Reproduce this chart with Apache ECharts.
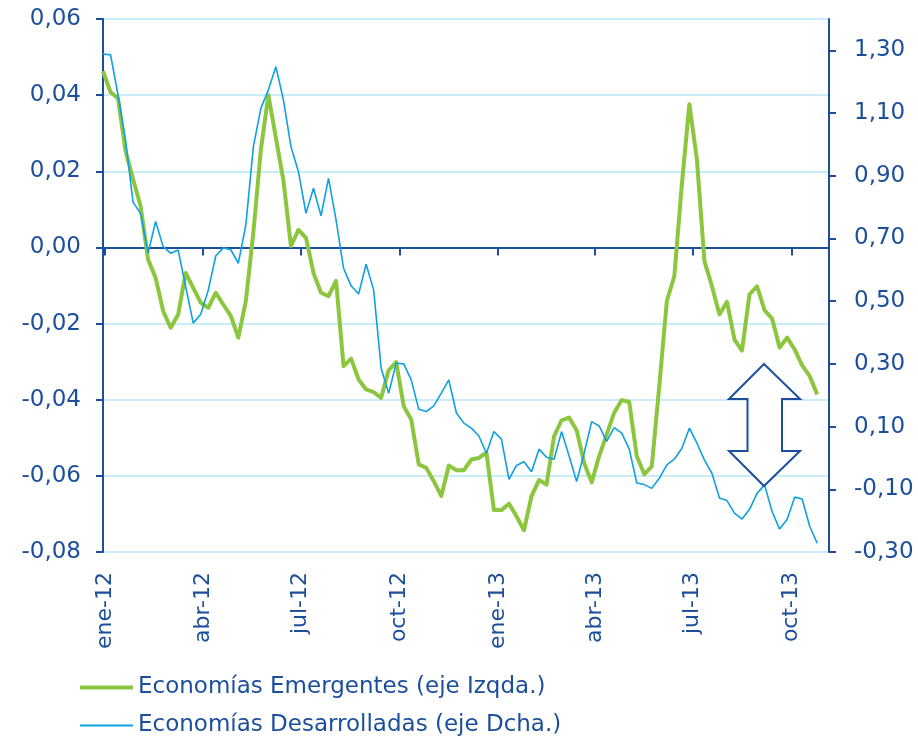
<!DOCTYPE html>
<html>
<head>
<meta charset="utf-8">
<script src="https://cdn.jsdelivr.net/npm/echarts@6/dist/echarts.min.js"></script>
<style>
  html, body { margin: 0; padding: 0; background: #ffffff; }
  #chart { width: 918px; height: 737px; }
</style>
</head>
<body>
<div id="chart"></div>
<script>
// ---- Data (weekly observations, first week 2011-12-30) ----
const startDate = '2011-12-30';
const stepDays = 7;

const emergentes = [
  0.0463, 0.0408, 0.0391, 0.0253, 0.0179, 0.0109, -0.0032, -0.0080, -0.0167, -0.0211,
  -0.0176, -0.0067, -0.0106, -0.0145, -0.0159, -0.0119, -0.0150, -0.0180, -0.0237, -0.0141,
  0.0039, 0.0257, 0.0400, 0.0287, 0.0176, 0.0004, 0.0046, 0.0025, -0.0067, -0.0119,
  -0.0128, -0.0088, -0.0312, -0.0292, -0.0347, -0.0373, -0.0380, -0.0395, -0.0322, -0.0301,
  -0.0417, -0.0452, -0.0570, -0.0579, -0.0614, -0.0653, -0.0573, -0.0585, -0.0585, -0.0557,
  -0.0553, -0.0539, -0.0690, -0.0690, -0.0673, -0.0706, -0.0743, -0.0653, -0.0611, -0.0623,
  -0.0496, -0.0454, -0.0447, -0.0480, -0.0566, -0.0617, -0.0548, -0.0491, -0.0434, -0.0401,
  -0.0406, -0.0548, -0.0596, -0.0575, -0.0363, -0.0141, -0.0075, 0.0166, 0.0376, 0.0231,
  -0.0036, -0.0102, -0.0176, -0.0143, -0.0242, -0.0271, -0.0123, -0.0102, -0.0165, -0.0187,
  -0.0263, -0.0237, -0.0268, -0.0310, -0.0338, -0.0386
];

const desarrolladas = [
  1.288, 1.286, 1.158, 1.014, 0.815, 0.780, 0.653, 0.754, 0.674, 0.653,
  0.663, 0.546, 0.430, 0.458, 0.535, 0.644, 0.670, 0.664, 0.621, 0.743,
  0.993, 1.115, 1.174, 1.248, 1.142, 0.993, 0.913, 0.780, 0.860, 0.772,
  0.892, 0.759, 0.605, 0.549, 0.523, 0.618, 0.536, 0.286, 0.206, 0.302,
  0.300, 0.249, 0.155, 0.148, 0.166, 0.207, 0.249, 0.144, 0.111, 0.095,
  0.070, 0.015, 0.084, 0.060, -0.068, -0.024, -0.012, -0.044, 0.028, 0.002,
  -0.004, 0.084, 0.006, -0.075, 0.015, 0.116, 0.102, 0.053, 0.097, 0.079,
  0.028, -0.080, -0.085, -0.097, -0.065, -0.022, -0.004, 0.031, 0.095, 0.047,
  -0.006, -0.049, -0.128, -0.136, -0.176, -0.195, -0.164, -0.113, -0.086, -0.171,
  -0.227, -0.196, -0.125, -0.131, -0.218, -0.272
];

const tickLabels = ['ene-12', 'abr-12', 'jul-12', 'oct-12', 'ene-13', 'abr-13', 'jul-13', 'oct-13'];
const tickDates  = ['2012-01-01', '2012-04-01', '2012-07-01', '2012-10-01', '2013-01-01', '2013-04-01', '2013-07-01', '2013-10-01'];
const axisEndDate = '2013-11-05';

const rightTicks = [-0.30, -0.10, 0.10, 0.30, 0.50, 0.70, 0.90, 1.10, 1.30];
const rightMin = -0.30, rightMax = 1.40;

const seriesNames = ['Economías Emergentes (eje Izqda.)', 'Economías Desarrolladas (eje Dcha.)'];

// ---- Helpers ----
const DAY = 86400000;
function dayOffset(d) { return (Date.parse(d + 'T00:00:00Z') - Date.parse(startDate + 'T00:00:00Z')) / DAY; }
const tickDays = tickDates.map(dayOffset);
const xMax = dayOffset(axisEndDate);
function fmt(v) { if (Math.abs(v) < 1e-9) v = 0; return v.toFixed(2).replace('.', ','); }
function labelFor(v) {
  for (let i = 0; i < tickDays.length; i++) if (Math.abs(tickDays[i] - v) < 0.01) return tickLabels[i];
  return '';
}

const dark = '#1b4f9c';
const gridCol = '#b9e4f6';
const green = '#8cc63f';
const blue = '#0fa0e0';
const FONT = 'DejaVu Sans';

function legendFor(name, top, thickness) {
  return {
    orient: 'vertical', left: 75, top: top,
    icon: 'rect', itemWidth: 53, itemHeight: thickness, itemGap: 0,
    textStyle: { fontFamily: FONT, fontSize: 23, color: dark },
    data: [name]
  };
}

const chart = echarts.init(document.getElementById('chart'), null, { renderer: 'canvas' });
chart.setOption({
  animation: false,
  backgroundColor: '#ffffff',
  textStyle: { fontFamily: FONT },
  grid: { left: 103, right: 89, top: 19, bottom: 185, containLabel: false },
  legend: [
    legendFor(seriesNames[0], 671, 4),
    legendFor(seriesNames[1], 709, 2)
  ],
  xAxis: [
    {
      type: 'value', min: 0, max: xMax, position: 'bottom',
      axisLine: { show: false, onZero: false },
      axisTick: { show: false },
      splitLine: { show: false },
      axisLabel: {
        customValues: tickDays, rotate: 90, margin: 20,
        fontFamily: FONT, fontSize: 22, color: dark,
        formatter: labelFor
      }
    },
    {
      type: 'value', min: 0, max: xMax, position: 'bottom',
      axisLine: { show: true, onZero: true, onZeroAxisIndex: 0, lineStyle: { color: dark, width: 2 } },
      axisTick: { show: true, customValues: tickDays, length: 8, lineStyle: { color: dark, width: 2 } },
      axisLabel: { show: false },
      splitLine: { show: false }
    }
  ],
  yAxis: [
    {
      type: 'value', min: -0.08, max: 0.06, interval: 0.02, position: 'left',
      axisLine: { show: true, onZero: false, lineStyle: { color: dark, width: 2 } },
      axisTick: { show: true, length: 7, lineStyle: { color: dark, width: 2 } },
      axisLabel: { fontFamily: FONT, fontSize: 23, color: dark, margin: 22, formatter: fmt },
      splitLine: { show: true, lineStyle: { color: gridCol, width: 1.6 } }
    },
    {
      type: 'value', min: rightMin, max: rightMax, position: 'right',
      axisLine: { show: true, onZero: false, lineStyle: { color: dark, width: 2 } },
      axisTick: { show: true, customValues: rightTicks, length: 7, lineStyle: { color: dark, width: 2 } },
      axisLabel: { customValues: rightTicks, fontFamily: FONT, fontSize: 23, color: dark, margin: 25, formatter: fmt },
      splitLine: { show: false }
    }
  ],
  series: [
    {
      name: seriesNames[0], type: 'line', xAxisIndex: 0, yAxisIndex: 0,
      symbol: 'none', smooth: false,
      lineStyle: { color: green, width: 4, join: 'round' },
      itemStyle: { color: green },
      data: emergentes.map((v, i) => [i * stepDays, v])
    },
    {
      name: seriesNames[1], type: 'line', xAxisIndex: 0, yAxisIndex: 1,
      symbol: 'none', smooth: false,
      lineStyle: { color: blue, width: 1.6 },
      itemStyle: { color: blue },
      data: desarrolladas.map((v, i) => [i * stepDays, v])
    }
  ],
  graphic: [
    {
      type: 'polygon', z: 100,
      shape: { points: [[764, 364], [800, 399], [782, 399], [782, 451], [800, 451], [764, 486], [729, 451], [747.5, 451], [747.5, 399], [729, 399]] },
      style: { fill: '#ffffff', stroke: dark, lineWidth: 2 }
    }
  ]
});
</script>
</body>
</html>
